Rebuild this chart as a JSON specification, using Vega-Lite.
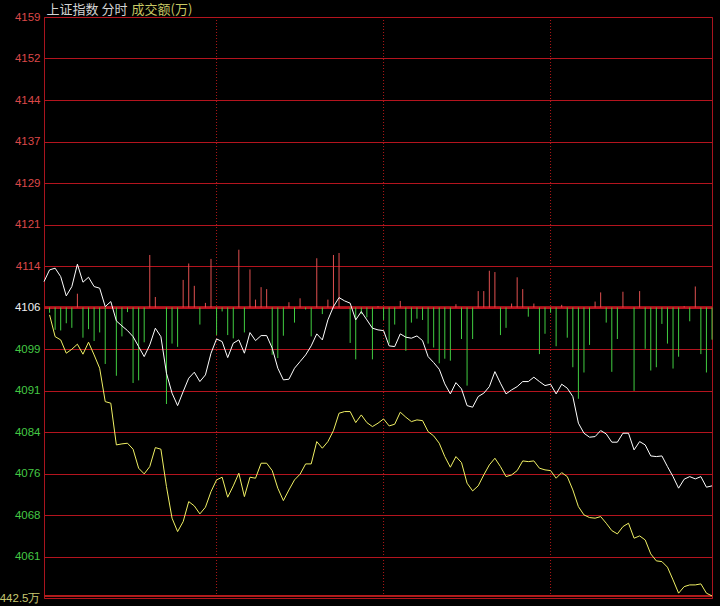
{
  "$schema": "https://vega.github.io/schema/vega-lite/v6.json",
  "width": 668,
  "height": 581,
  "autosize": "none",
  "padding": {"left": 44, "top": 17, "right": 8, "bottom": 8},
  "background": "#000000",
  "config": {"view": {"stroke": "#a8141e", "strokeWidth": 1}},
  "datasets": {
    "minute": [
      {"i":0,"price":4111.02,"avg":null},{"i":1,"price":4113.16,"avg":4104.94},{"i":2,"price":4113.47,"avg":4100.97},{"i":3,"price":4111.93,"avg":4100.37},{"i":4,"price":4108.41,"avg":4097.94},{"i":5,"price":4110.11,"avg":4098.67},{"i":6,"price":4114.20,"avg":4099.59},{"i":7,"price":4110.91,"avg":4097.76},{"i":8,"price":4111.82,"avg":4099.95},{"i":9,"price":4110.11,"avg":4097.63},
      {"i":10,"price":4109.82,"avg":4095.20},{"i":11,"price":4106.45,"avg":4089.10},{"i":12,"price":4107.37,"avg":4088.81},{"i":13,"price":4103.84,"avg":4081.19},{"i":14,"price":4102.93,"avg":4081.38},{"i":15,"price":4102.07,"avg":4081.50},{"i":16,"price":4100.97,"avg":4080.41},{"i":17,"price":4099.15,"avg":4076.94},{"i":18,"price":4097.32,"avg":4075.90},{"i":19,"price":4099.46,"avg":4077.23},
      {"i":20,"price":4102.51,"avg":4080.70},{"i":21,"price":4100.97,"avg":4080.41},{"i":22,"price":4094.29,"avg":4073.58},{"i":23,"price":4090.64,"avg":4067.81},{"i":24,"price":4088.37,"avg":4065.36},{"i":25,"price":4090.93,"avg":4067.18},{"i":26,"price":4093.38,"avg":4070.84},{"i":27,"price":4094.47,"avg":4070.05},{"i":28,"price":4092.76,"avg":4068.59},{"i":29,"price":4093.98,"avg":4069.81},
      {"i":30,"price":4097.94,"avg":4072.66},{"i":31,"price":4100.55,"avg":4074.80},{"i":32,"price":4100.06,"avg":4075.29},{"i":33,"price":4097.14,"avg":4071.64},{"i":34,"price":4099.77,"avg":4073.71},{"i":35,"price":4100.37,"avg":4076.02},{"i":36,"price":4097.94,"avg":4071.75},{"i":37,"price":4101.71,"avg":4075.29},{"i":38,"price":4100.24,"avg":4075.11},{"i":39,"price":4101.16,"avg":4077.85},
      {"i":40,"price":4101.16,"avg":4077.85},{"i":41,"price":4098.86,"avg":4076.50},{"i":42,"price":4095.20,"avg":4073.29},{"i":43,"price":4093.07,"avg":4071.02},{"i":44,"price":4093.19,"avg":4072.97},{"i":45,"price":4095.20,"avg":4074.80},{"i":46,"price":4096.41,"avg":4075.84},{"i":47,"price":4097.63,"avg":4077.72},{"i":48,"price":4099.28,"avg":4077.72},{"i":49,"price":4101.47,"avg":4081.80},
      {"i":50,"price":4100.37,"avg":4080.59},{"i":51,"price":4104.03,"avg":4081.80},{"i":52,"price":4106.45,"avg":4083.81},{"i":53,"price":4108.10,"avg":4086.98},{"i":54,"price":4107.50,"avg":4087.28},{"i":55,"price":4107.08,"avg":4087.28},{"i":56,"price":4104.03,"avg":4085.27},{"i":57,"price":4105.54,"avg":4086.67},{"i":58,"price":4104.03,"avg":4085.27},{"i":59,"price":4102.51,"avg":4084.54},
      {"i":60,"price":4102.20,"avg":4085.16},{"i":61,"price":4102.07,"avg":4085.94},{"i":62,"price":4099.28,"avg":4084.66},{"i":63,"price":4099.15,"avg":4084.97},{"i":64,"price":4101.47,"avg":4087.17},{"i":65,"price":4100.87,"avg":4086.25},{"i":66,"price":4100.68,"avg":4085.45},{"i":67,"price":4101.10,"avg":4085.76},{"i":68,"price":4100.24,"avg":4085.63},{"i":69,"price":4097.32,"avg":4083.62},
      {"i":70,"price":4096.23,"avg":4082.84},{"i":71,"price":4095.02,"avg":4081.50},{"i":72,"price":4092.34,"avg":4079.06},{"i":73,"price":4090.51,"avg":4077.12},{"i":74,"price":4092.57,"avg":4079.06},{"i":75,"price":4091.42,"avg":4077.96},{"i":76,"price":4088.37,"avg":4074.20},{"i":77,"price":4088.08,"avg":4072.79},{"i":78,"price":4090.02,"avg":4073.71},{"i":79,"price":4090.64,"avg":4075.71},
      {"i":80,"price":4091.84,"avg":4077.54},{"i":81,"price":4094.58,"avg":4078.76},{"i":82,"price":4092.46,"avg":4077.23},{"i":83,"price":4090.51,"avg":4075.40},{"i":84,"price":4091.24,"avg":4075.71},{"i":85,"price":4091.84,"avg":4076.50},{"i":86,"price":4092.76,"avg":4078.27},{"i":87,"price":4092.76,"avg":4078.14},{"i":88,"price":4093.56,"avg":4078.27},{"i":89,"price":4092.76,"avg":4076.94},
      {"i":90,"price":4092.03,"avg":4076.63},{"i":91,"price":4092.28,"avg":4076.50},{"i":92,"price":4090.51,"avg":4075.11},{"i":93,"price":4092.28,"avg":4076.13},{"i":94,"price":4091.55,"avg":4075.40},{"i":95,"price":4090.02,"avg":4072.97},{"i":96,"price":4085.16,"avg":4069.92},{"i":97,"price":4083.33,"avg":4068.41},{"i":98,"price":4082.60,"avg":4067.92},{"i":99,"price":4082.71,"avg":4067.81},
      {"i":100,"price":4083.81,"avg":4068.10},{"i":101,"price":4083.20,"avg":4066.89},{"i":102,"price":4081.69,"avg":4065.54},{"i":103,"price":4081.69,"avg":4064.94},{"i":104,"price":4083.33,"avg":4066.27},{"i":105,"price":4083.33,"avg":4066.89},{"i":106,"price":4080.28,"avg":4064.15},{"i":107,"price":4081.80,"avg":4064.57},{"i":108,"price":4081.19,"avg":4063.84},{"i":109,"price":4079.18,"avg":4061.28},
      {"i":110,"price":4079.06,"avg":4060.01},{"i":111,"price":4079.18,"avg":4059.88},{"i":112,"price":4077.23,"avg":4058.86},{"i":113,"price":4075.40,"avg":4056.54},{"i":114,"price":4073.29,"avg":4054.11},{"i":115,"price":4074.93,"avg":4055.31},{"i":116,"price":4075.40,"avg":4055.62},{"i":117,"price":4074.98,"avg":4055.62},{"i":118,"price":4075.40,"avg":4055.81},{"i":119,"price":4073.47,"avg":4054.11},{"i":120,"price":4073.71,"avg":4053.61}
    ],
    "volume": [
      {"i":1,"vol":-8},{"i":2,"vol":-34},{"i":3,"vol":-35},{"i":4,"vol":-24},{"i":5,"vol":-31},{"i":6,"vol":21},{"i":7,"vol":-46},{"i":8,"vol":-33},{"i":9,"vol":-51},{"i":10,"vol":-38},
      {"i":11,"vol":-86},{"i":13,"vol":-104},{"i":14,"vol":-44},{"i":15,"vol":-7},{"i":16,"vol":-115},{"i":17,"vol":-111},{"i":18,"vol":-53},{"i":19,"vol":80},{"i":20,"vol":16},
      {"i":22,"vol":-147},{"i":23,"vol":-55},{"i":24,"vol":-60},{"i":25,"vol":42},{"i":26,"vol":67},{"i":27,"vol":33},{"i":28,"vol":-26},{"i":29,"vol":7},{"i":30,"vol":74},
      {"i":31,"vol":-42},{"i":32,"vol":-6},{"i":33,"vol":-42},{"i":34,"vol":-47},{"i":35,"vol":88},{"i":36,"vol":-38},{"i":37,"vol":58},{"i":38,"vol":12},{"i":39,"vol":31},{"i":40,"vol":28},
      {"i":41,"vol":-72},{"i":42,"vol":-77},{"i":43,"vol":-43},{"i":44,"vol":8},{"i":45,"vol":-23},{"i":46,"vol":14},{"i":47,"vol":-3},{"i":48,"vol":-44},{"i":49,"vol":75},{"i":50,"vol":-10},
      {"i":51,"vol":12},{"i":52,"vol":80},{"i":53,"vol":83},{"i":55,"vol":-54},{"i":56,"vol":-79},{"i":57,"vol":-10},{"i":58,"vol":-15},{"i":59,"vol":-79},{"i":60,"vol":2},
      {"i":61,"vol":-19},{"i":62,"vol":-55},{"i":63,"vol":-26},{"i":64,"vol":10},{"i":65,"vol":-66},{"i":66,"vol":-23},{"i":67,"vol":-17},{"i":68,"vol":-19},{"i":69,"vol":-55},{"i":70,"vol":-61},
      {"i":71,"vol":-85},{"i":72,"vol":-78},{"i":73,"vol":-81},{"i":74,"vol":5},{"i":75,"vol":-48},{"i":76,"vol":-119},{"i":77,"vol":-48},{"i":78,"vol":25},{"i":79,"vol":25},{"i":80,"vol":56},
      {"i":81,"vol":54},{"i":82,"vol":-42},{"i":83,"vol":-31},{"i":84,"vol":6},{"i":85,"vol":46},{"i":86,"vol":28},{"i":87,"vol":-14},{"i":88,"vol":6},{"i":89,"vol":-71},{"i":90,"vol":-40},
      {"i":91,"vol":-8},{"i":92,"vol":-59},{"i":93,"vol":4},{"i":94,"vol":-46},{"i":95,"vol":-91},{"i":96,"vol":-139},{"i":97,"vol":-99},{"i":98,"vol":-57},{"i":99,"vol":9},{"i":100,"vol":23},
      {"i":101,"vol":-23},{"i":102,"vol":-98},{"i":103,"vol":-48},{"i":104,"vol":24},{"i":106,"vol":-127},{"i":107,"vol":25},{"i":108,"vol":-63},{"i":109,"vol":-96},{"i":110,"vol":-91},
      {"i":111,"vol":-25},{"i":112,"vol":-55},{"i":113,"vol":-93},{"i":114,"vol":-75},{"i":115,"vol":2},{"i":116,"vol":-21},{"i":117,"vol":32},{"i":118,"vol":-71},{"i":119,"vol":-99},{"i":120,"vol":-49}
    ],
    "hours": [{"t":31},{"t":61},{"t":91}]
  },
  "layer": [
    {
      "data": {"name": "minute"},
      "mark": {"type": "line", "color": "#ffffff", "strokeWidth": 1, "opacity": 0},
      "encoding": {
        "x": {"field": "i", "type": "quantitative", "scale": {"domain": [0, 120], "nice": false, "zero": false}, "axis": null},
        "y": {"field": "price", "type": "quantitative",
          "scale": {"domain": [4053.23, 4159.35], "nice": false, "zero": false},
          "axis": {
            "values": [4053.23, 4060.81, 4068.39, 4075.97, 4083.55, 4091.13, 4098.71, 4106.29, 4113.87, 4121.45, 4129.03, 4136.61, 4144.19, 4151.77, 4159.35],
            "labelExpr": "datum.value < 4054 ? '442.5万' : format(datum.value, '.0f')",
            "ticks": false, "domain": false, "grid": true, "gridColor": "#b4141e", "gridWidth": 1, "gridOpacity": 1,
            "labelFont": "Liberation Sans", "labelFontSize": 11.5, "labelPadding": 4, "labelOverlap": false, "labelBound": false, "labelFlush": false,
            "labelColor": {"condition": [
              {"test": "datum.value > 4107", "value": "#dc4848"},
              {"test": "datum.value > 4105", "value": "#f0f0f0"},
              {"test": "datum.value > 4055", "value": "#44c844"}
            ], "value": "#c8c870"},
            "title": "成交额(万)", "titleAngle": 0, "titleX": 87, "titleY": -8, "titleAlign": "left", "titleBaseline": "middle",
            "titleColor": "#c8c864", "titleFont": "Noto Sans CJK SC", "titleFontSize": 13, "titleFontWeight": "normal"
          }
        }
      }
    },
    {
      "data": {"name": "hours"},
      "mark": {"type": "rule", "color": "#b01818", "strokeWidth": 1, "strokeDash": [1, 2]},
      "encoding": {
        "x": {"field": "t", "type": "quantitative", "scale": {"domain": [0, 120], "nice": false, "zero": false}, "axis": null}
      }
    },
    {
      "data": {"name": "hours"},
      "mark": {"type": "rule", "color": "#b8141e", "strokeWidth": 2},
      "encoding": {
        "y": {"datum": 4106.29, "type": "quantitative", "scale": {"domain": [4053.23, 4159.35], "nice": false, "zero": false}, "axis": null}
      }
    },
    {
      "data": {"name": "hours"},
      "mark": {"type": "rule", "color": "#b01c1c", "strokeWidth": 2},
      "encoding": {
        "y": {"datum": 4053.6, "type": "quantitative", "scale": {"domain": [4053.23, 4159.35], "nice": false, "zero": false}, "axis": null}
      }
    },
    {
      "data": {"name": "volume"},
      "mark": {"type": "rule", "strokeWidth": 1},
      "encoding": {
        "x": {"field": "i", "type": "quantitative", "scale": {"domain": [0, 120], "nice": false, "zero": false}, "axis": null},
        "y": {"field": "vol", "type": "quantitative", "scale": {"domain": [-442.5, 442.5], "nice": false},
          "axis": {"orient": "right", "labels": false, "ticks": false, "domain": false, "grid": false,
            "title": "上证指数  分时", "titleAngle": 0, "titleX": -666, "titleY": -8, "titleAlign": "left", "titleBaseline": "middle",
            "titleColor": "#d4d4d4", "titleFont": "Noto Sans CJK SC", "titleFontSize": 13, "titleFontWeight": "normal"}},
        "y2": {"datum": 0},
        "color": {"condition": {"test": "datum.vol > 0", "value": "#e05050"}, "value": "#40cc40"}
      }
    },
    {
      "data": {"name": "minute"},
      "mark": {"type": "line", "color": "#f0f064", "strokeWidth": 1},
      "encoding": {
        "x": {"field": "i", "type": "quantitative", "scale": {"domain": [0, 120], "nice": false, "zero": false}, "axis": null},
        "y": {"field": "avg", "type": "quantitative", "scale": {"domain": [4053.23, 4159.35], "nice": false, "zero": false}, "axis": null}
      }
    },
    {
      "data": {"name": "minute"},
      "mark": {"type": "line", "color": "#ffffff", "strokeWidth": 1},
      "encoding": {
        "x": {"field": "i", "type": "quantitative", "scale": {"domain": [0, 120], "nice": false, "zero": false}, "axis": null},
        "y": {"field": "price", "type": "quantitative", "scale": {"domain": [4053.23, 4159.35], "nice": false, "zero": false}, "axis": null}
      }
    }
  ],
  "resolve": {"scale": {"y": "independent"}}
}
